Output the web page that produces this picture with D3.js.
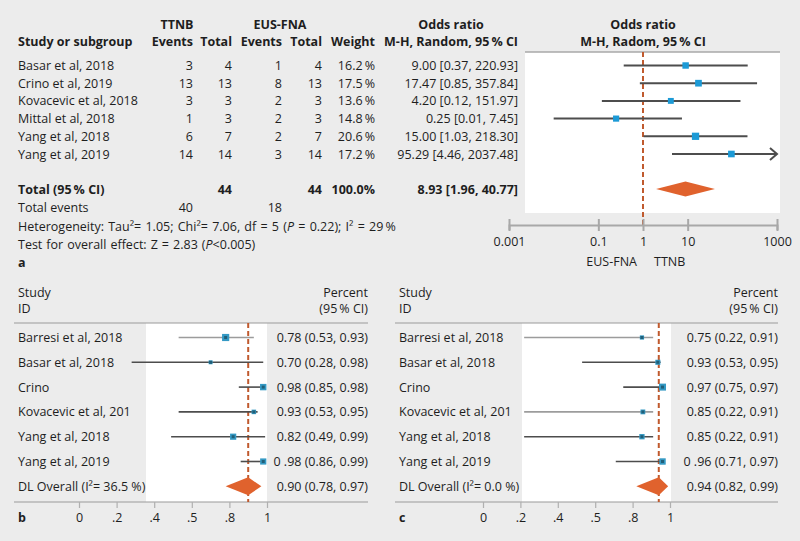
<!DOCTYPE html>
<html><head><meta charset="utf-8">
<script src="https://cdn.jsdelivr.net/npm/d3@7"></script>
<style>
html,body{margin:0;padding:0;background:#ececec;}
svg{display:block;font-family:"Open Sans",sans-serif;}
</style></head>
<body>
<svg id="c" width="800" height="541"></svg>
<script>
// ---------- Panel a data ----------
const studiesA = ["Basar et al, 2018","Crino et al, 2019","Kovacevic et al, 2018","Mittal et al, 2018","Yang et al, 2018","Yang et al, 2019"];
const ttnbEvents = [3,13,3,1,6,14];
const ttnbTotal  = [4,13,3,3,7,14];
const eusEvents  = [1,8,2,2,2,3];
const eusTotal   = [4,13,3,3,7,14];
const weightsA   = [16.2,17.5,13.6,14.8,20.6,17.2];
const orEst  = [9.00,17.47,4.20,0.25,15.00,95.29];
const orLow  = [0.37,0.85,0.12,0.01,1.03,4.46];
const orHigh = [220.93,357.84,151.97,7.45,218.30,2037.48];
const totalA = {est:8.93, low:1.96, high:40.77, ttnbTotal:44, eusTotal:44, weight:"100.0%", ttnbEvents:40, eusEvents:18};
const tickValsA = [0.001,0.1,1,10,1000];
const tickLabsA = ["0.001","0.1","1","10","1000"];

// ---------- Panel b data ----------
const studiesB = ["Barresi et al, 2018","Basar et al, 2018","Crino","Kovacevic et al, 201","Yang et al, 2018","Yang et al, 2019"];
const bEst  = [0.78,0.70,0.98,0.93,0.82,0.98];
const bLow  = [0.53,0.28,0.85,0.53,0.49,0.86];
const bHigh = [0.93,0.98,0.98,0.95,0.99,0.99];
const bWeight = [20,6,16,8,15,15];
const bText = ["0.78 (0.53, 0.93)","0.70 (0.28, 0.98)","0.98 (0.85, 0.98)","0.93 (0.53, 0.95)","0.82 (0.49, 0.99)","0 .98 (0.86, 0.99)"];
const bOverall = {label:"DL Overall (I²= 36.5 %)", est:0.90, low:0.78, high:0.97, text:"0.90 (0.78, 0.97)"};

// ---------- Panel c data ----------
const studiesC = ["Barresi et al, 2018","Basar et al, 2018","Crino","Kovacevic et al, 201","Yang et al, 2018","Yang et al, 2019"];
const cEst  = [0.85,0.935,0.96,0.855,0.85,0.96];
const cLow  = [0.22,0.53,0.75,0.22,0.22,0.71];
const cHigh = [0.91,0.95,0.97,0.91,0.91,0.97];
const cWeight = [7,10,19,9,11,16];
const cText = ["0.75 (0.22, 0.91)","0.93 (0.53, 0.95)","0.97 (0.75, 0.97)","0.85 (0.22, 0.91)","0.85 (0.22, 0.91)","0 .96 (0.71, 0.97)"];
const cOverall = {label:"DL Overall (I²= 0.0 %)", est:0.94, low:0.82, high:0.99, text:"0.94 (0.82, 0.99)"};

const tickValsB = [0,0.2,0.4,0.6,0.8,1];
const tickLabsB = ["0",".2",".4",".5",".8","1"];

// ---------- styles ----------
const TXT = "#1e1e1e";
const FS = 12.5;
const ORANGE = "#e0622d";
const DASH = "#c05a2e";
const BLUE = "#1c9ad6";
const CI = "#4d4d4d";

const svg = d3.select("#c");

function txt(g, x, y, s, anchor, weight, size){
  return g.append("text").attr("x",x).attr("y",y).attr("text-anchor",anchor||"start")
    .attr("font-size",size||FS).attr("font-weight",weight||"normal").attr("fill",TXT).text(s);
}

// ================= Panel a =================
const A = svg.append("g");
const xA = d3.scaleLog().domain([0.001,1000]).range([509,777]);
const rowA = i => 65.5 + i*17.7;
const BL = 4.5;
const plotTop = 52, plotBot = 213, axisY = 225;
const colTE = 193, colTT = 232, colEE = 282, colET = 322, colW = 375, colOR = 518;

A.append("rect").attr("x",525).attr("y",plotTop).attr("width",255).attr("height",plotBot-plotTop).attr("fill","#fff");
A.append("line").attr("x1",525).attr("x2",780).attr("y1",plotTop).attr("y2",plotTop).attr("stroke","#a8a8a8").attr("stroke-width",1.5);

// headers
txt(A,177,29,"TTNB","middle","bold");
txt(A,280,29,"EUS-FNA","middle","bold");
txt(A,451,29,"Odds ratio","middle","bold");
txt(A,643,29,"Odds ratio","middle","bold");
txt(A,18,46,"Study or subgroup","start","bold");
txt(A,colTE,46,"Events","end","bold");
txt(A,colTT,46,"Total","end","bold");
txt(A,colEE,46,"Events","end","bold");
txt(A,colET,46,"Total","end","bold");
txt(A,colW,46,"Weight","end","bold");
txt(A,colOR,46,"M-H, Random, 95\u2009% CI","end","bold");
txt(A,643,46,"M-H, Radom, 95\u2009% CI","middle","bold");

const f2 = d3.format(".2f");
studiesA.forEach((s,i)=>{
  const y = rowA(i)+BL;
  txt(A,18,y,s);
  txt(A,colTE,y,ttnbEvents[i],"end");
  txt(A,colTT,y,ttnbTotal[i],"end");
  txt(A,colEE,y,eusEvents[i],"end");
  txt(A,colET,y,eusTotal[i],"end");
  txt(A,colW,y,d3.format(".1f")(weightsA[i])+"\u2009%","end");
  txt(A,colOR,y,`${f2(orEst[i])} [${f2(orLow[i])}, ${f2(orHigh[i])}]`,"end");
});

// dashed null line
A.append("line").attr("x1",xA(1)).attr("x2",xA(1)).attr("y1",plotTop).attr("y2",axisY)
  .attr("stroke",DASH).attr("stroke-width",2).attr("stroke-dasharray","5,3");

// CIs and squares
const sizeA = d3.scaleSqrt().domain([0,25]).range([0,8]);
const xMax = 1000;
studiesA.forEach((s,i)=>{
  const y = rowA(i);
  const hiClamped = Math.min(orHigh[i], xMax);
  A.append("line").attr("x1",xA(orLow[i])).attr("x2",xA(hiClamped)).attr("y1",y).attr("y2",y)
    .attr("stroke",CI).attr("stroke-width",2);
  if (orHigh[i] > xMax){
    const xe = xA(xMax);
    A.append("path").attr("d",`M${xe-7},${y-6}L${xe},${y}L${xe-7},${y+6}`)
      .attr("fill","none").attr("stroke",CI).attr("stroke-width",2);
  }
  const sz = sizeA(weightsA[i]);
  A.append("rect").attr("x",xA(orEst[i])-sz/2).attr("y",y-sz/2).attr("width",sz).attr("height",sz).attr("fill",BLUE);
});

// totals
const yT = 189;
txt(A,18,yT+BL,"Total (95\u2009% CI)","start","bold");
txt(A,colTT,yT+BL,totalA.ttnbTotal,"end","bold");
txt(A,colET,yT+BL,totalA.eusTotal,"end","bold");
txt(A,colW,yT+BL,totalA.weight,"end","bold");
txt(A,colOR,yT+BL,`${f2(totalA.est)} [${f2(totalA.low)}, ${f2(totalA.high)}]`,"end","bold");
A.append("path").attr("d",`M${xA(totalA.low)},${yT}L${xA(totalA.est)},${yT-7.5}L${xA(totalA.high)},${yT}L${xA(totalA.est)},${yT+7.5}Z`).attr("fill",ORANGE);

txt(A,18,207+BL,"Total events");
txt(A,colTE,207+BL,totalA.ttnbEvents,"end");
txt(A,colEE,207+BL,totalA.eusEvents,"end");

const het = A.append("text").attr("x",18).attr("y",226+BL).attr("font-size",FS).attr("fill",TXT).attr("word-spacing",1);
het.append("tspan").text("Heterogeneity: Tau²= 1.05; Chi²= 7.06, df = 5 (");
het.append("tspan").attr("font-style","italic").text("P");
het.append("tspan").text(" = 0.22); I² = 29\u2009%");
const tst = A.append("text").attr("x",18).attr("y",244+BL).attr("font-size",FS).attr("fill",TXT).attr("word-spacing",0.8);
tst.append("tspan").text("Test for overall effect: Z = 2.83 (");
tst.append("tspan").attr("font-style","italic").text("P");
tst.append("tspan").text("<0.005)");
txt(A,18,262+BL,"a","start","bold");

// axis a
const axA = d3.axisBottom(xA).tickValues(tickValsA).tickFormat((d,i)=>tickLabsA[i]).tickSizeOuter(0).tickSize(5);
const gAx = A.append("g").attr("transform",`translate(0,${axisY})`).call(axA);
gAx.select(".domain").attr("stroke","#a8a8a8").attr("stroke-width",2);
gAx.selectAll(".tick line").attr("y1",-6).attr("y2",6).attr("stroke","#a8a8a8").attr("stroke-width",2);
gAx.selectAll(".tick text").attr("y",12).attr("font-size",FS).attr("font-family","Open Sans").attr("fill",TXT);
txt(A,xA(1)-6,266,"EUS-FNA","end");
txt(A,xA(1)+11,266,"TTNB","start");

// ================= Panels b, c =================
function lowerPanel(opts){
  const G = svg.append("g");
  const x = d3.scaleLinear().domain([0,1]).range(opts.range);
  const row = i => 337.5 + i*24.8;
  const top = 323, bot = 502;
  G.append("rect").attr("x",opts.white[0]).attr("y",top).attr("width",opts.white[1]-opts.white[0]).attr("height",bot-top).attr("fill","#fff");
  G.append("line").attr("x1",opts.left-4).attr("x2",opts.right).attr("y1",top).attr("y2",top).attr("stroke","#9a9a9a").attr("stroke-width",1.2);
  G.append("line").attr("x1",opts.left-4).attr("x2",opts.right).attr("y1",bot).attr("y2",bot).attr("stroke","#9a9a9a").attr("stroke-width",1.2);
  txt(G,opts.left,297,"Study");
  txt(G,opts.left,313,"ID");
  txt(G,opts.right,297,"Percent","end");
  txt(G,opts.right,313,"(95\u2009% CI)","end");
  G.append("line").attr("x1",x(opts.overall.est)).attr("x2",x(opts.overall.est)).attr("y1",top).attr("y2",bot)
    .attr("stroke",DASH).attr("stroke-width",2).attr("stroke-dasharray","5,3");
  const sz = d3.scaleSqrt().domain([0,25]).range([0,8]);
  opts.studies.forEach((s,i)=>{
    const y = row(i);
    txt(G,opts.left,y+BL,s);
    txt(G,opts.right,y+BL,opts.text[i],"end");
    G.append("line").attr("x1",x(opts.low[i])).attr("x2",x(opts.high[i])).attr("y1",y).attr("y2",y)
      .attr("stroke",opts.light.includes(i)?"#9c9c9c":CI).attr("stroke-width",1.6);
    const w = sz(opts.weight[i]);
    G.append("rect").attr("x",x(opts.est[i])-w/2).attr("y",y-w/2).attr("width",w).attr("height",w)
      .attr("fill","#3499c4");
    G.append("rect").attr("x",x(opts.est[i])-1.5).attr("y",y-1.5).attr("width",3).attr("height",3).attr("fill","#215f78");
  });
  const yo = row(6);
  txt(G,opts.left,yo+BL,opts.overall.label);
  txt(G,opts.right,yo+BL,opts.overall.text,"end");
  G.append("path").attr("d",`M${x(opts.overall.low)},${yo}L${x(opts.overall.est)},${yo-9}L${x(opts.overall.high)},${yo}L${x(opts.overall.est)},${yo+9}Z`).attr("fill",ORANGE);
  const ax = d3.axisBottom(x).tickValues(tickValsB).tickFormat((d,i)=>tickLabsB[i]).tickSizeOuter(0).tickSize(6);
  const ga = G.append("g").attr("transform",`translate(0,${bot})`).call(ax);
  ga.select(".domain").remove();
  ga.selectAll(".tick line").attr("stroke","#b0b0b0").attr("stroke-width",1.2);
  ga.selectAll(".tick text").attr("y",11).attr("font-size",FS).attr("font-family","Open Sans").attr("fill",TXT);
  txt(G,opts.left,522,opts.letter,"start","bold");
}

lowerPanel({left:18,right:368,range:[79,267],white:[146,267],studies:studiesB,est:bEst,low:bLow,high:bHigh,weight:bWeight,text:bText,overall:bOverall,letter:"b",light:[0]});
lowerPanel({left:399,right:778,range:[483,670],white:[522,671],studies:studiesC,est:cEst,low:cLow,high:cHigh,weight:cWeight,text:cText,overall:cOverall,letter:"c",light:[0,3]});
</script>
</body></html>
